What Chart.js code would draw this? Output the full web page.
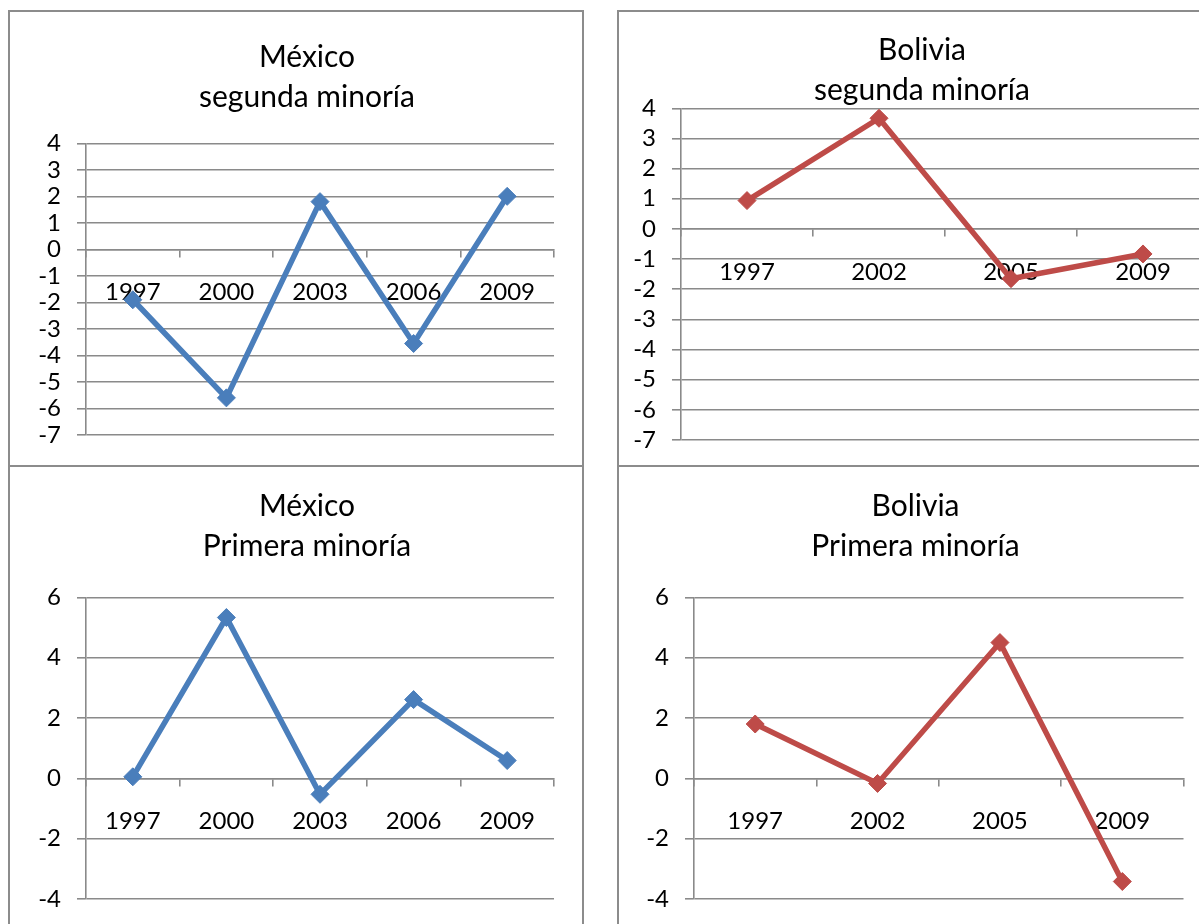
<!DOCTYPE html>
<html lang="es">
<head>
<meta charset="utf-8">
<title>México y Bolivia: segunda y primera minoría</title>
<script src="https://cdn.jsdelivr.net/npm/chart.js@4.4.1/dist/chart.umd.min.js"></script>
<style>
  html, body { margin: 0; padding: 0; background: #ffffff; width: 1199px; height: 924px; overflow: hidden; }
  .panel { position: absolute; box-sizing: border-box; border: 2px solid #8c8c8c; background: #ffffff; }
  canvas { position: absolute; }
</style>
</head>
<body>
<div class="panel" style="left:8px;top:10px;width:576px;height:457px;"></div>
<div class="panel" style="left:617px;top:10px;width:640px;height:457px;"></div>
<div class="panel" style="left:8px;top:465px;width:576px;height:500px;"></div>
<div class="panel" style="left:617px;top:465px;width:640px;height:500px;"></div>

<canvas id="mxSegunda" width="594" height="453" style="left:10px;top:13px;width:594px;height:453px;"></canvas>
<canvas id="boSegunda" width="604" height="458" style="left:620px;top:13px;width:604px;height:458px;"></canvas>
<canvas id="mxPrimera" width="594" height="463" style="left:10px;top:467px;width:594px;height:463px;"></canvas>
<canvas id="boPrimera" width="591" height="463" style="left:620px;top:467px;width:591px;height:463px;"></canvas>

<script>
// Election years on each category axis
const yearsMexico = ['1997', '2000', '2003', '2006', '2009'];
const yearsBolivia = ['1997', '2002', '2005', '2009'];

// Series values
const mexicoSegunda = [-1.9, -5.6, 1.8, -3.55, 2.0];
const boliviaSegunda = [0.94, 3.67, -1.65, -0.83];
const mexicoPrimera = [0.05, 5.33, -0.53, 2.61, 0.59];
const boliviaPrimera = [1.8, -0.17, 4.5, -3.42];

// Titles
const titleMexicoSegunda = ['México', 'segunda minoría'];
const titleBoliviaSegunda = ['Bolivia', 'segunda minoría'];
const titleMexicoPrimera = ['México', 'Primera minoría'];
const titleBoliviaPrimera = ['Bolivia', 'Primera minoría'];

// Value axis ranges
const segundaRange = { min: -7, max: 4, step: 1 };
const primeraRange = { min: -4, max: 6, step: 2 };

const BLUE = '#4A7EBB';
const RED = '#BE4B48';
const GRID = '#8a8a8a';
const FONT = 'Lato, "Open Sans", "DejaVu Sans", sans-serif';

function makeChart(id, labels, values, color, title, range, box) {
  const ctx = document.getElementById(id);
  return new Chart(ctx, {
    type: 'line',
    data: {
      labels: labels,
      datasets: [{
        data: values,
        yAxisID: 'y',
        borderColor: color,
        backgroundColor: color,
        borderWidth: 5.5,
        tension: 0,
        pointStyle: 'rectRot',
        pointRadius: 9,
        pointBorderWidth: 1,
        pointBackgroundColor: color,
        pointBorderColor: color,
        pointHoverRadius: 9,
        clip: false
      }]
    },
    options: {
      responsive: false,
      devicePixelRatio: 1,
      animation: false,
      events: [],
      layout: {
        padding: { left: 0, right: 0, top: 0, bottom: box.pb }
      },
      plugins: {
        legend: { display: false },
        tooltip: { enabled: false },
        title: {
          display: true,
          text: title,
          color: '#000000',
          font: { family: FONT, size: 30, weight: 'normal', lineHeight: 40 / 30 },
          padding: { top: box.t1, bottom: box.t2 }
        }
      },
      scales: {
        x: {
          type: 'category',
          position: { y: 0 },
          offset: true,
          afterFit: (scale) => { scale.height = 0; },
          border: { display: true, color: GRID, width: 1.6 },
          grid: {
            offset: true,
            drawOnChartArea: false,
            drawTicks: true,
            tickLength: 7,
            color: GRID,
            lineWidth: 1.6
          },
          ticks: {
            color: '#000000',
            font: { family: FONT, size: 24 },
            padding: 21.5,
            maxRotation: 0,
            autoSkip: false
          }
        },
        y: {
          type: 'linear',
          position: 'left',
          min: range.min,
          max: range.max,
          afterFit: (scale) => { scale.width = box.yw; },
          border: { display: true, color: GRID, width: 1.6 },
          grid: {
            color: GRID,
            lineWidth: 1.6,
            drawTicks: true,
            tickLength: 9
          },
          ticks: {
            stepSize: range.step,
            autoSkip: false,
            color: '#000000',
            font: { family: FONT, size: 24 },
            padding: 16
          }
        },
        // empty right-hand margin so the title sits centred on the whole chart box
        spacer: {
          type: 'linear',
          axis: 'y',
          position: 'right',
          display: true,
          afterFit: (scale) => { scale.width = box.sw; },
          border: { display: false },
          grid: { display: false, drawTicks: false },
          ticks: { display: false }
        }
      }
    }
  });
}

function drawAll() {
  makeChart('mxSegunda', yearsMexico, mexicoSegunda, BLUE, titleMexicoSegunda, segundaRange,
    { yw: 76, sw: 50, pb: 31, t1: 24, t2: 26.3 });
  makeChart('boSegunda', yearsBolivia, boliviaSegunda, RED, titleBoliviaSegunda, segundaRange,
    { yw: 61, sw: 15, pb: 31, t1: 17, t2: -1.7 });
  makeChart('mxPrimera', yearsMexico, mexicoPrimera, BLUE, titleMexicoPrimera, primeraRange,
    { yw: 76, sw: 50, pb: 31, t1: 19, t2: 31.3 });
  makeChart('boPrimera', yearsBolivia, boliviaPrimera, RED, titleBoliviaPrimera, primeraRange,
    { yw: 74, sw: 27.5, pb: 31, t1: 19, t2: 31.3 });
}

if (document.fonts && document.fonts.load) {
  Promise.all([document.fonts.load('24px Lato'), document.fonts.load('30px Lato')])
    .then(drawAll, drawAll);
} else {
  drawAll();
}
</script>
</body>
</html>
